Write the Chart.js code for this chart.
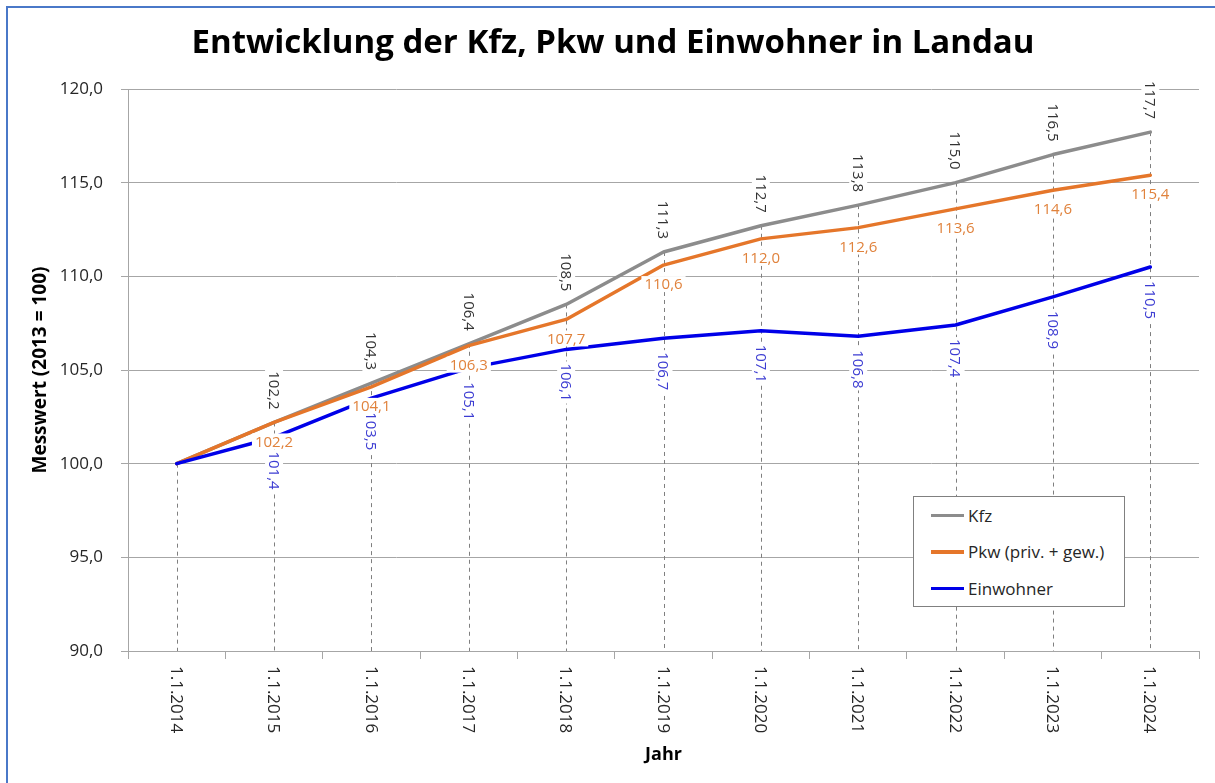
<!DOCTYPE html>
<html>
<head>
<meta charset="utf-8">
<title>Entwicklung der Kfz, Pkw und Einwohner in Landau</title>
<script src="https://cdn.jsdelivr.net/npm/chart.js@4.4.0/dist/chart.umd.min.js"></script>
<style>
    body { margin: 0; background: #fff; }
    #wrap { position: relative; width: 1215px; height: 783px; overflow: hidden; background: #fff; }
    #chart { position: absolute; left: 0; top: 0; }
    #frame {
        position: absolute; left: 6px; top: 6px; width: 1300px; height: 900px;
        border: 2px solid #4a78c8; box-sizing: border-box; pointer-events: none;
    }
    #legend {
        position: absolute; left: 913px; top: 496px; width: 212px; height: 111px;
        border: 1px solid #808080; background: #fff; box-sizing: border-box;
        font-family: "Open Sans", sans-serif; font-size: 17px; color: #262626;
        padding-top: 0px;
    }
    .legend-row { display: flex; align-items: center; height: 36.5px; padding-left: 17px; }
    .legend-line { width: 33px; height: 3.5px; margin-right: 4px; }
</style>
</head>
<body>
<div id="wrap">
    <canvas id="chart" width="1215" height="783"></canvas>
    <div id="legend"></div>
    <div id="frame"></div>
</div>
<script>
// Data
const years = ['1.1.2014', '1.1.2015', '1.1.2016', '1.1.2017', '1.1.2018', '1.1.2019',
               '1.1.2020', '1.1.2021', '1.1.2022', '1.1.2023', '1.1.2024'];
const kfz = [100.0, 102.2, 104.3, 106.4, 108.5, 111.3, 112.7, 113.8, 115.0, 116.5, 117.7];
const pkw = [100.0, 102.2, 104.1, 106.3, 107.7, 110.6, 112.0, 112.6, 113.6, 114.6, 115.4];
const einwohner = [100.0, 101.4, 103.5, 105.1, 106.1, 106.7, 107.1, 106.8, 107.4, 108.9, 110.5];
const yMin = 90;
const yMax = 120;
const yStep = 5;

const FONT = '"Open Sans", sans-serif';

// German decimal comma
function fmt(v) {
    return v.toFixed(1).replace('.', ',');
}

// Dashed drop lines from the highest point down to the x axis
const dropLines = {
    id: 'dropLines',
    beforeDatasetsDraw(chart) {
        const ctx = chart.ctx;
        const area = chart.chartArea;
        const metas = chart.data.datasets.map((ds, i) => chart.getDatasetMeta(i));
        ctx.save();
        ctx.strokeStyle = '#7f7f7f';
        ctx.lineWidth = 1;
        ctx.setLineDash([4, 4]);
        years.forEach((y, i) => {
            const top = Math.min(...metas.map(m => m.data[i].y));
            const x = Math.round(metas[0].data[i].x) + 0.5;
            ctx.beginPath();
            ctx.moveTo(x, top);
            ctx.lineTo(x, area.bottom);
            ctx.stroke();
        });
        ctx.restore();
    }
};

// Rotated label (reads top to bottom); start=true begins at the anchor, else ends there
function rotatedLabel(ctx, x, y, txt, color, start) {
    ctx.save();
    ctx.translate(x, y);
    ctx.rotate(Math.PI / 2);
    const w = ctx.measureText(txt).width;
    const x0 = start ? 0 : -w;
    ctx.fillStyle = '#fff';
    ctx.fillRect(x0 - 2, -9, w + 4, 18);
    ctx.fillStyle = color;
    ctx.textAlign = 'left';
    ctx.textBaseline = 'middle';
    ctx.fillText(txt, x0, 1);
    ctx.restore();
}

// Value labels: rotated ones first, horizontal (Pkw) ones on top
const valueLabels = {
    id: 'valueLabels',
    afterDatasetsDraw(chart) {
        const ctx = chart.ctx;
        ctx.save();
        ctx.font = '15px ' + FONT;
        ['rotated', 'flat'].forEach(pass => {
            chart.data.datasets.forEach((ds, di) => {
                const flat = ds.labelPos === 'under';
                if ((pass === 'flat') !== flat) return;
                const meta = chart.getDatasetMeta(di);
                meta.data.forEach((pt, i) => {
                    if (i === 0) return;
                    const txt = fmt(ds.data[i]);
                    if (ds.labelPos === 'above') {
                        rotatedLabel(ctx, pt.x, pt.y - 13, txt, ds.labelColor, false);
                    } else if (ds.labelPos === 'below') {
                        rotatedLabel(ctx, pt.x, pt.y + 14, txt, ds.labelColor, true);
                    } else {
                        const w = ctx.measureText(txt).width;
                        const cy = pt.y + 19;
                        ctx.fillStyle = '#fff';
                        ctx.fillRect(pt.x - w / 2 - 3, cy - 8, w + 6, 16);
                        ctx.fillStyle = ds.labelColor;
                        ctx.textAlign = 'center';
                        ctx.textBaseline = 'middle';
                        ctx.fillText(txt, pt.x, cy + 1);
                    }
                });
            });
        });
        ctx.restore();
    }
};

// Category labels rotated clockwise under the x axis
const xLabels = {
    id: 'xLabels',
    afterDraw(chart) {
        const ctx = chart.ctx;
        const xs = chart.scales.x;
        const bottom = chart.chartArea.bottom;
        ctx.save();
        ctx.font = '17px ' + FONT;
        ctx.fillStyle = '#262626';
        years.forEach((lbl, i) => {
            ctx.save();
            ctx.translate(xs.getPixelForValue(i), bottom + 15);
            ctx.rotate(Math.PI / 2);
            ctx.textAlign = 'left';
            ctx.textBaseline = 'middle';
            ctx.fillText(lbl, 0, 1);
            ctx.restore();
        });
        ctx.restore();
    }
};

const chart = new Chart(document.getElementById('chart'), {
    type: 'line',
    data: {
        labels: years,
        datasets: [
            {
                label: 'Kfz', data: kfz, borderColor: '#8c8c8c', borderWidth: 3.5,
                order: 3, labelPos: 'above', labelColor: '#333333'
            },
            {
                label: 'Pkw (priv. + gew.)', data: pkw, borderColor: '#e5762a', borderWidth: 3.5,
                order: 2, labelPos: 'under', labelColor: '#e0823c'
            },
            {
                label: 'Einwohner', data: einwohner, borderColor: '#0000e8', borderWidth: 3.5,
                order: 1, labelPos: 'below', labelColor: '#3c3cd2'
            }
        ]
    },
    options: {
        responsive: false,
        animation: false,
        events: [],
        elements: {
            point: { radius: 0 },
            line: { tension: 0, borderCapStyle: 'round', borderJoinStyle: 'round' }
        },
        layout: { padding: { left: 27, right: 16, top: 0, bottom: 0 } },
        plugins: {
            legend: { display: false },
            tooltip: { enabled: false },
            title: {
                display: true,
                text: 'Entwicklung der Kfz, Pkw und Einwohner in Landau',
                color: '#000',
                font: { family: FONT, size: 33, weight: 'bold' },
                padding: { top: 24, bottom: 25.4 }
            }
        },
        scales: {
            x: {
                offset: true,
                grid: { offset: true, drawOnChartArea: false, drawTicks: true, tickLength: 8, color: '#a6a6a6' },
                border: { color: '#a6a6a6' },
                ticks: { display: false },
                title: {
                    display: true, text: 'Jahr', color: '#000',
                    font: { family: FONT, size: 18, weight: 'bold' },
                    padding: { top: 0, bottom: 17 }
                },
                afterFit(scale) { scale.height = 132; }
            },
            y: {
                min: yMin,
                max: yMax,
                grid: { color: '#a6a6a6', tickLength: 7 },
                border: { color: '#a6a6a6' },
                ticks: {
                    stepSize: yStep,
                    padding: 18,
                    color: '#262626',
                    font: { family: FONT, size: 17 },
                    callback: v => fmt(v)
                },
                title: {
                    display: true, text: 'Messwert (2013 = 100)', color: '#000',
                    font: { family: FONT, size: 19, weight: 'bold' },
                    padding: { top: 2, bottom: 0 }
                },
                afterFit(scale) { scale.width = 101; }
            }
        }
    },
    plugins: [dropLines, valueLabels, xLabels]
});

// Legend box built from the datasets
document.getElementById('legend').innerHTML = chart.data.datasets.map(ds => `
    <div class="legend-row">
        <div class="legend-line" style="background:${ds.borderColor}"></div>
        <span>${ds.label}</span>
    </div>
`).join('');
</script>
</body>
</html>
